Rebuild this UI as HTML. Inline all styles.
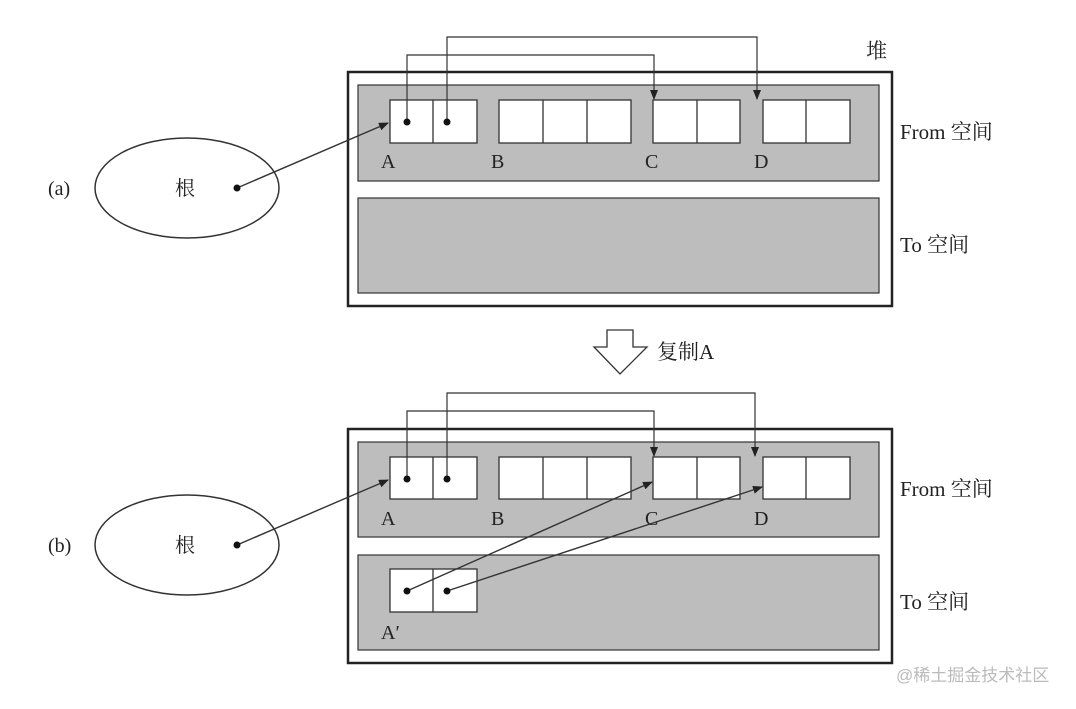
<!DOCTYPE html>
<html><head><meta charset="utf-8"><style>
html,body{margin:0;padding:0;background:#fff;}
text{font-family:"Liberation Serif","Noto Serif CJK SC",serif;fill:#222;}
</style></head><body>
<svg width="1076" height="704" xmlns="http://www.w3.org/2000/svg">
<defs>
<marker id="ar" markerWidth="10" markerHeight="8" refX="9" refY="4" orient="auto" markerUnits="userSpaceOnUse">
<path d="M0,0 L10,4 L0,8 Z" fill="#222"/>
</marker>
</defs>

<!-- (a) -->
<rect x="348" y="72" width="544" height="234" fill="#fff" stroke="#222" stroke-width="2.5"/>
<rect x="358" y="85" width="521" height="96" fill="#bdbdbd" stroke="#333" stroke-width="1.2"/>
<rect x="358" y="198" width="521" height="95" fill="#bdbdbd" stroke="#333" stroke-width="1.2"/>
<g fill="#fff" stroke="#333" stroke-width="1.3">
<rect x="390" y="100" width="87" height="43"/><line x1="433" y1="100" x2="433" y2="143"/>
<rect x="499" y="100" width="132" height="43"/><line x1="543" y1="100" x2="543" y2="143"/><line x1="587" y1="100" x2="587" y2="143"/>
<rect x="653" y="100" width="87" height="43"/><line x1="697" y1="100" x2="697" y2="143"/>
<rect x="763" y="100" width="87" height="43"/><line x1="806" y1="100" x2="806" y2="143"/>
</g>
<g fill="none" stroke="#333" stroke-width="1.2">
<polyline points="407,122 407,55 654,55 654,99" marker-end="url(#ar)"/>
<polyline points="447,122 447,37 757,37 757,99" marker-end="url(#ar)"/>
<line x1="237" y1="188" x2="388" y2="123" stroke-width="1.4" marker-end="url(#ar)"/>
</g>
<g fill="#111"><circle cx="407" cy="122" r="3.5"/><circle cx="447" cy="122" r="3.5"/><circle cx="237" cy="188" r="3.5"/></g>
<ellipse cx="187" cy="188" rx="92" ry="50" fill="none" stroke="#333" stroke-width="1.5"/>
<text x="175" y="195" font-size="20">根</text>
<text x="48" y="195" font-size="20">(a)</text>
<g font-size="20"><text x="381" y="168">A</text><text x="491" y="168">B</text><text x="645" y="168">C</text><text x="754" y="168">D</text></g>
<text x="866" y="58" font-size="21">堆</text>
<text x="900" y="139" font-size="21">From 空间</text>
<text x="900" y="252" font-size="21">To 空间</text>

<!-- arrow -->
<polygon points="607,330 633,330 633,347 647,347 620,374 594,347 607,347" fill="#fff" stroke="#333" stroke-width="1.3"/>
<text x="657" y="359" font-size="21">复制A</text>

<!-- (b) -->
<rect x="348" y="429" width="544" height="234" fill="#fff" stroke="#222" stroke-width="2.5"/>
<rect x="358" y="442" width="521" height="95" fill="#bdbdbd" stroke="#333" stroke-width="1.2"/>
<rect x="358" y="555" width="521" height="95" fill="#bdbdbd" stroke="#333" stroke-width="1.2"/>
<g fill="#fff" stroke="#333" stroke-width="1.3">
<rect x="390" y="457" width="87" height="42"/><line x1="433" y1="457" x2="433" y2="499"/>
<rect x="499" y="457" width="132" height="42"/><line x1="543" y1="457" x2="543" y2="499"/><line x1="587" y1="457" x2="587" y2="499"/>
<rect x="653" y="457" width="87" height="42"/><line x1="697" y1="457" x2="697" y2="499"/>
<rect x="763" y="457" width="87" height="42"/><line x1="806" y1="457" x2="806" y2="499"/>
<rect x="390" y="569" width="87" height="43"/><line x1="433" y1="569" x2="433" y2="612"/>
</g>
<g fill="none" stroke="#333" stroke-width="1.2">
<polyline points="407,479 407,411 654,411 654,456" marker-end="url(#ar)"/>
<polyline points="447,479 447,393 755,393 755,456" marker-end="url(#ar)"/>
<line x1="237" y1="545" x2="388" y2="480" stroke-width="1.4" marker-end="url(#ar)"/>
<line x1="407" y1="591" x2="652" y2="482" stroke-width="1.4" marker-end="url(#ar)"/>
<line x1="447" y1="591" x2="762" y2="487" stroke-width="1.4" marker-end="url(#ar)"/>
</g>
<g fill="#111"><circle cx="407" cy="479" r="3.5"/><circle cx="447" cy="479" r="3.5"/><circle cx="237" cy="545" r="3.5"/><circle cx="407" cy="591" r="3.5"/><circle cx="447" cy="591" r="3.5"/></g>
<ellipse cx="187" cy="545" rx="92" ry="50" fill="none" stroke="#333" stroke-width="1.5"/>
<text x="175" y="552" font-size="20">根</text>
<text x="48" y="552" font-size="20">(b)</text>
<g font-size="20"><text x="381" y="525">A</text><text x="491" y="525">B</text><text x="645" y="525">C</text><text x="754" y="525">D</text><text x="381" y="639">A′</text></g>
<text x="900" y="496" font-size="21">From 空间</text>
<text x="900" y="609" font-size="21">To 空间</text>

<text x="896" y="681" font-size="17" style="font-family:'Liberation Sans','Noto Sans CJK SC',sans-serif;fill:#bbb">@稀土掘金技术社区</text>
</svg>
</body></html>
